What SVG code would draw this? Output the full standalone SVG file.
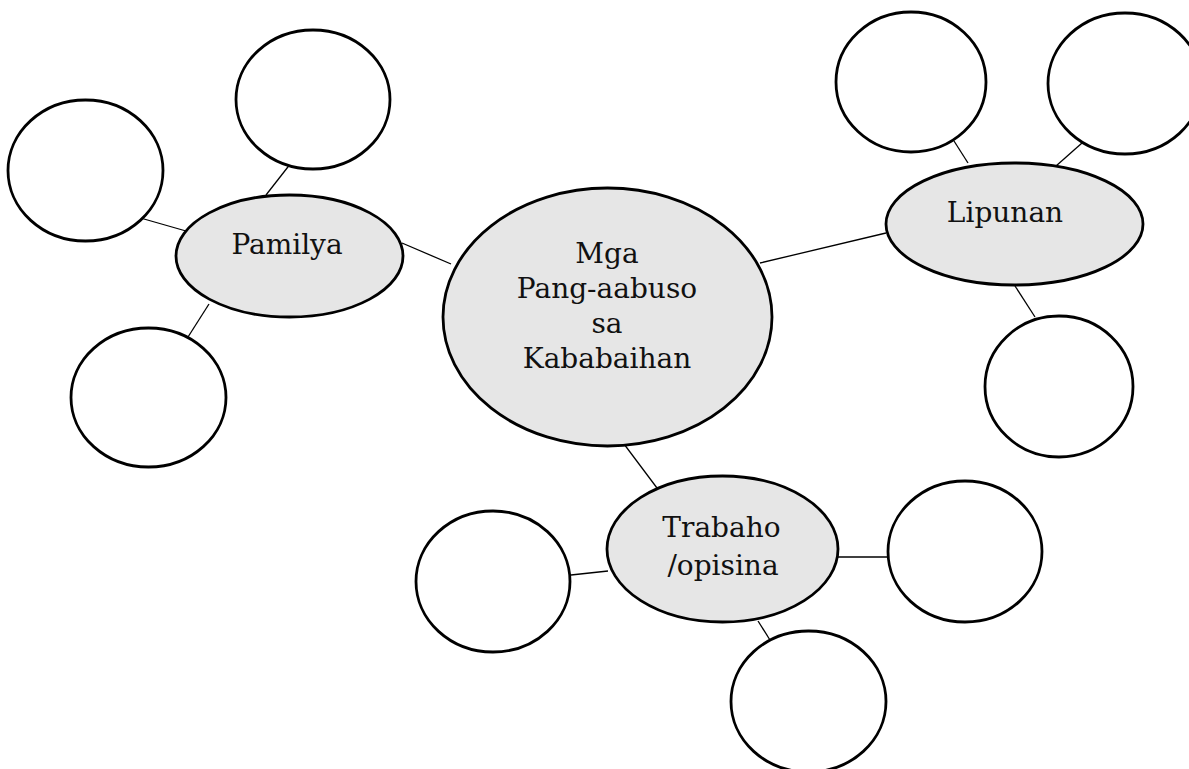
<svg xmlns="http://www.w3.org/2000/svg" width="1189" height="769" viewBox="0 0 1189 769">
<style>
.hub{fill:#e6e6e6;stroke:#000;stroke-width:2.8}
.leaf{fill:#fff;stroke:#000;stroke-width:2.8}
.conn line{stroke:#000;stroke-width:1.3}
text{font-family:"DejaVu Serif","Liberation Serif",serif;font-size:28px;fill:#111;text-anchor:middle}
</style>
<rect width="1189" height="769" fill="#fff"/>
<g id="connectors" class="conn">
<line x1="137" y1="217" x2="186" y2="231"/>
<line x1="291" y1="163" x2="266" y2="195"/>
<line x1="209" y1="304" x2="188" y2="337"/>
<line x1="402" y1="243" x2="451" y2="264"/>
<line x1="760" y1="263" x2="886" y2="233"/>
<line x1="954" y1="141" x2="968" y2="163"/>
<line x1="1082" y1="143" x2="1056" y2="166"/>
<line x1="1015" y1="286" x2="1035" y2="317"/>
<line x1="624" y1="444" x2="657" y2="488"/>
<line x1="571" y1="575" x2="608" y2="571"/>
<line x1="838" y1="557" x2="887" y2="557"/>
<line x1="758" y1="621" x2="770" y2="640"/>
</g>
<g id="center">
<ellipse class="hub" cx="607.5" cy="317" rx="164.5" ry="129"/>
<text x="607" y="263">Mga</text>
<text x="607" y="298">Pang-aabuso</text>
<text x="607" y="333">sa</text>
<text x="607" y="368">Kababaihan</text>
</g>
<g id="pamilya">
<ellipse class="hub" cx="289.5" cy="256" rx="113.5" ry="61"/>
<text x="287" y="254">Pamilya</text>
</g>
<g id="lipunan">
<ellipse class="hub" cx="1014.5" cy="224" rx="128.5" ry="61"/>
<text x="1005" y="222">Lipunan</text>
</g>
<g id="trabaho">
<ellipse class="hub" cx="722.5" cy="549" rx="115.5" ry="73"/>
<text x="721.5" y="537">Trabaho</text>
<text x="723" y="575">/opisina</text>
</g>
<g id="pamilya-left"><ellipse class="leaf" cx="85.5" cy="170.5" rx="77.5" ry="70.5"/></g>
<g id="pamilya-top"><ellipse class="leaf" cx="313" cy="99.5" rx="77" ry="69.5"/></g>
<g id="pamilya-bottom"><ellipse class="leaf" cx="148.5" cy="397.5" rx="77.5" ry="69.5"/></g>
<g id="lipunan-topleft"><ellipse class="leaf" cx="911" cy="82" rx="75" ry="70"/></g>
<g id="lipunan-topright"><ellipse class="leaf" cx="1125" cy="83.5" rx="77" ry="70.5"/></g>
<g id="lipunan-bottom"><ellipse class="leaf" cx="1059" cy="386.5" rx="74" ry="70.5"/></g>
<g id="trabaho-left"><ellipse class="leaf" cx="493" cy="581.5" rx="77" ry="70.5"/></g>
<g id="trabaho-right"><ellipse class="leaf" cx="965" cy="551.5" rx="77" ry="70.5"/></g>
<g id="trabaho-bottom"><ellipse class="leaf" cx="808.5" cy="701.5" rx="77.5" ry="70.5"/></g>
</svg>
